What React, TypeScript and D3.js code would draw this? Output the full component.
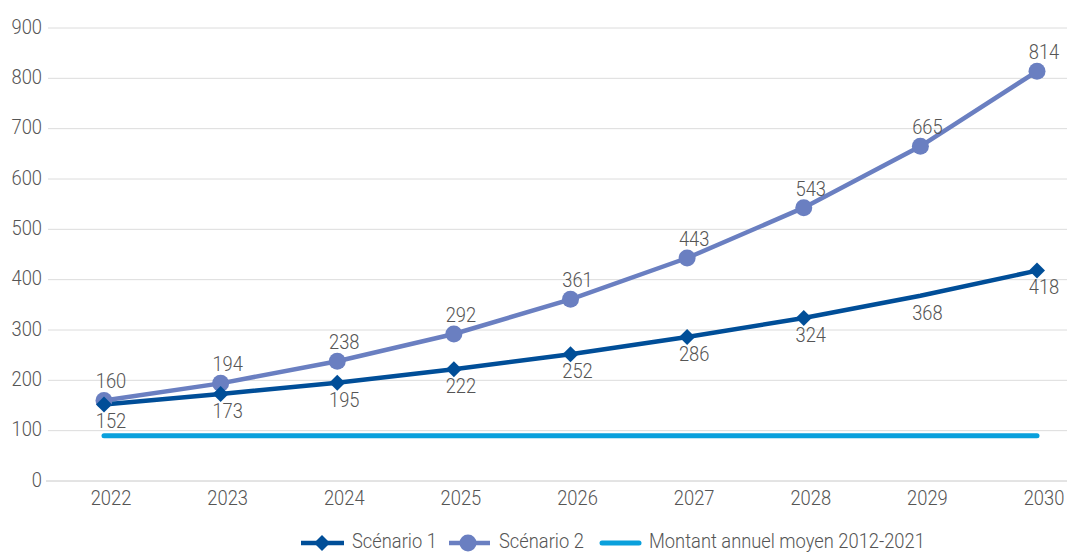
import React from "react";
import * as d3 from "d3";

const years = ["2022", "2023", "2024", "2025", "2026", "2027", "2028", "2029", "2030"];
const scenario1 = [152, 173, 195, 222, 252, 286, 324, 368, 418];
const scenario2 = [160, 194, 238, 292, 361, 443, 543, 665, 814];
const average = [90, 90, 90, 90, 90, 90, 90, 90, 90];
const yTicks = [0, 100, 200, 300, 400, 500, 600, 700, 800, 900];
const s1MarkerHidden = [false, false, false, false, false, false, false, true, false];

const C1 = "#004e98";
const C2 = "#6a7fc1";
const C3 = "#0aa0dc";
const TXT = "#555555";
const FONT = "Roboto, sans-serif";
const SX = 0.94;

function T({ x, y, anchor = "middle", children }: { x: number; y: number; anchor?: string; children: React.ReactNode }) {
  return (
    <text transform={`translate(${x},${y}) scale(${SX},1)`} dy="0.35em" textAnchor={anchor} fontSize={19.5} fontWeight={300} fill={TXT}>
      {children}
    </text>
  );
}

export default function App() {
  const W = 1067, H = 552;
  const x = d3.scalePoint<string>().domain(years).range([104, 1037]);
  const xl = d3.scalePoint<string>().domain(years).range([111, 1044]);
  const y = d3.scaleLinear().domain([0, 900]).range([481, 28]);
  const line = d3.line<number>().x((_, i) => x(years[i])!).y((d) => y(d));
  const diamond = (cx: number, cy: number, r: number) =>
    `M${cx},${cy - r}L${cx + r},${cy}L${cx},${cy + r}L${cx - r},${cy}Z`;

  return (
    <svg width={W} height={H} style={{ position: "absolute", left: 0, top: 0 }} fontFamily={FONT}>
      <rect width={W} height={H} fill="#fff" />
      {yTicks.map((t) => (
        <g key={t}>
          <line x1={t === 0 ? 46 : 48} x2={1067} y1={y(t)} y2={y(t)} stroke={t === 0 ? "#c8c8c8" : "#dcdcdc"} strokeWidth={1} />
          <T x={42} y={y(t) - 1} anchor="end">{t}</T>
        </g>
      ))}
      {years.map((yr) => (
        <T key={yr} x={xl(yr)!} y={498}>{yr}</T>
      ))}
      <path d={line(average)!} fill="none" stroke={C3} strokeWidth={5} strokeLinecap="round" />
      <path d={line(scenario2)!} fill="none" stroke={C2} strokeWidth={4.5} />
      <path d={line(scenario1)!} fill="none" stroke={C1} strokeWidth={4.5} />
      {scenario2.map((v, i) => (
        <circle key={i} cx={x(years[i])} cy={y(v)} r={8.5} fill={C2} />
      ))}
      {scenario1.map((v, i) =>
        s1MarkerHidden[i] ? null : <path key={i} d={diamond(x(years[i])!, y(v), 8)} fill={C1} />
      )}
      {scenario2.map((v, i) => (
        <T key={i} x={xl(years[i])!} y={y(v) - 19}>{v}</T>
      ))}
      {scenario1.map((v, i) => (
        <T key={i} x={xl(years[i])!} y={y(v) + 17}>{v}</T>
      ))}
      <g>
        <line x1={301} x2={344} y1={543} y2={543} stroke={C1} strokeWidth={4.5} />
        <path d={diamond(322, 543, 8)} fill={C1} />
        <T x={352} y={541} anchor="start">Scénario 1</T>
        <line x1={449} x2={490} y1={543} y2={543} stroke={C2} strokeWidth={4.5} />
        <circle cx={468} cy={543} r={8.5} fill={C2} />
        <T x={499} y={541} anchor="start">Scénario 2</T>
        <line x1={602} x2={639} y1={543} y2={543} stroke={C3} strokeWidth={5} strokeLinecap="round" />
        <T x={649} y={541} anchor="start">Montant annuel moyen 2012-2021</T>
      </g>
    </svg>
  );
}
